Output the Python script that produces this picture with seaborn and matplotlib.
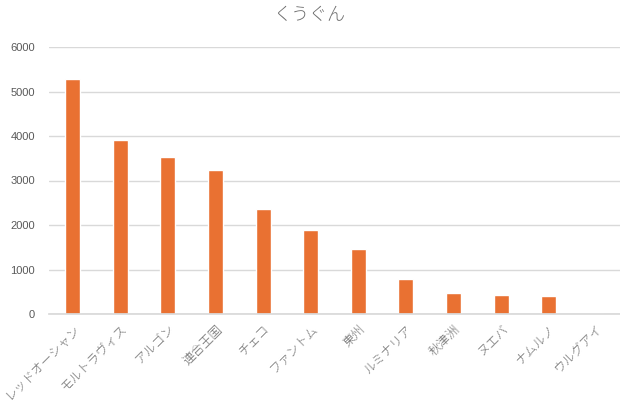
import matplotlib
matplotlib.use("Agg")
import matplotlib.pyplot as plt
import seaborn as sns
import pandas as pd

categories = ["レッドオーシャン", "モルトラヴィス", "アルゴン", "連合王国", "チェコ", "ファントム",
              "東州", "ルミナリア", "秋津洲", "ヌエバ", "ナムルノ", "ウルグアイ"]
values = [5290, 3920, 3530, 3240, 2360, 1890, 1460, 790, 470, 430, 400, 0]
yticks = [0, 1000, 2000, 3000, 4000, 5000, 6000]
title = "くうぐん"

sns.set_theme(style="white")
plt.rcParams['font.family'] = ['Noto Sans CJK JP', 'DejaVu Sans']

df = pd.DataFrame({"cat": categories, "val": values})

fig = plt.figure(figsize=(6.2, 4.03), dpi=100)
ax = fig.add_axes([49/620, 1 - 314/403, (620 - 49)/620, (314 - 47)/403])

sns.barplot(data=df, x="cat", y="val", color="#E97132", saturation=1, width=0.315, ax=ax)

ax.set_ylim(0, 6000)
ax.set_xlim(-0.5, len(categories) - 0.5)
ax.set_yticks(yticks)
ax.set_yticklabels([str(t) for t in yticks], fontsize=8, color="#595959", family="Liberation Sans")
ax.yaxis.grid(True, color="#D9D9D9", linewidth=1)
ax.set_axisbelow(True)
for s in ["top", "right", "left"]:
    ax.spines[s].set_visible(False)
ax.spines["bottom"].set_color("#D9D9D9")
ax.tick_params(axis="both", length=0, pad=10)
ax.tick_params(axis="x", pad=6)
ax.set_xlabel("")
ax.set_ylabel("")
ax.set_xticks(range(len(categories)))
ax.set_xticklabels(categories, rotation=45, ha="right", rotation_mode="anchor",
                   fontsize=9, color="#6E6E6E", fontweight="light")

fig.text(0.5, 1 - 15/403, title, ha="center", va="center", fontsize=13, color="#6E6E6E",
         fontweight="light")

fig.savefig("out.png", dpi=100)
